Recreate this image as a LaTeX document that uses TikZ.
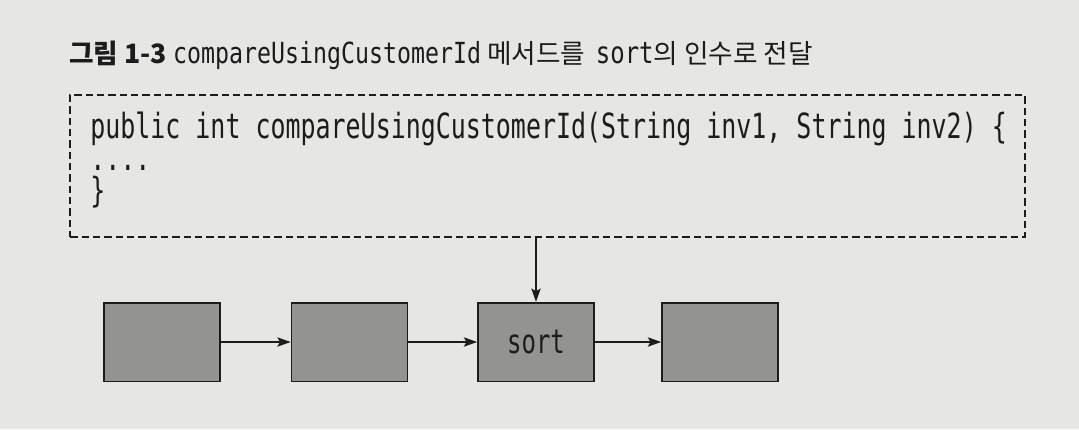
\documentclass[tikz,border=0pt]{standalone}
\usepackage{fontspec}
\usepackage{tikz}
\usetikzlibrary{positioning,arrows.meta}
\newfontfamily\krfont{Noto Sans CJK KR}
\newfontfamily\codefont[FakeStretch=0.72]{DejaVu Sans Mono}
\newfontfamily\titlecode[FakeStretch=0.8]{DejaVu Sans Mono}
\definecolor{pagebg}{RGB}{230,230,228}
\definecolor{blkfill}{RGB}{147,147,145}
\definecolor{ink}{RGB}{28,28,28}

\begin{document}
\begin{tikzpicture}[x=0.75pt,y=-0.75pt,>={Stealth[length=10pt,width=7pt,inset=2pt]},
  blk/.style={draw=ink,line width=1.25pt,fill=blkfill,minimum width=87pt,minimum height=59pt,inner sep=0pt,text=ink,font=\codefont\fontsize{25}{30}\selectfont},
  codeline/.style={anchor=base west,inner sep=0pt,text=ink,font=\codefont\fontsize{26}{30}\selectfont},
  link/.style={->,draw=ink,line width=1pt}]
\fill[pagebg] (0,0) rectangle (1079,429);
\useasboundingbox (0,0) rectangle (1079,429);
\node[anchor=base west,inner sep=0pt,text=ink,font=\krfont\fontsize{20}{24}\selectfont] (title) at (69,63) {{\bfseries 그림 1-3} {\titlecode\fontsize{21.8}{26}\selectfont compareUsingCustomerId} 메서드를\hspace{8pt}{\titlecode\fontsize{22.5}{26}\selectfont sort}의 인수로 전달};
\node[draw=ink,dash pattern=on 5.5pt off 3pt,line width=1.4pt,minimum width=716pt,minimum height=106.5pt] (code) at (547.5,166) {};
\node[codeline] (l1) at (90,138) {public int compareUsingCustomerId(String inv1, String inv2) \{};
\node[codeline] (l2) at (90,170) {....};
\node[codeline] (l3) at (90,202) {\}};
\node[blk] (b1) at (162,342) {};
\node[blk] (b2) at (349.5,342) {};
\node[blk] (sort) at (536,342) {sort};
\node[blk] (b4) at (720,342) {};
\draw[link] (code.south -| sort) -- (sort);
\draw[link] (b1) -- (b2);
\draw[link] (b2) -- (sort);
\draw[link] (sort) -- (b4);
\end{tikzpicture}
\end{document}
